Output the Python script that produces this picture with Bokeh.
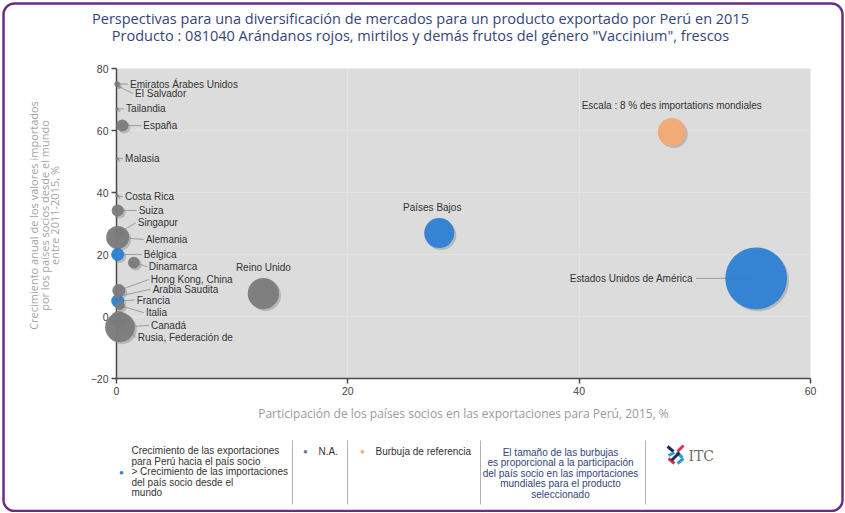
import math
from bokeh.plotting import figure
from bokeh.models import ColumnDataSource, Range1d, FixedTicker
from bokeh.core.properties import value
from bokeh.embed import file_html
from bokeh.resources import INLINE

# ------------------------------------------------------------------ data
title_lines = [
    "Perspectivas para una diversificación de mercados para un producto exportado por Perú en 2015",
    'Producto : 081040 Arándanos rojos, mirtilos y demás frutos del género "Vaccinium", frescos',
]
x_axis_title = "Participación de los países socios en las exportaciones para Perú, 2015, %"
y_axis_title = [
    "Crecimiento anual de los valores importados",
    "por los países socios desde el mundo",
    "entre 2011-2015, %",
]
x_ticks = [0, 20, 40, 60]
y_ticks = [-20, 0, 20, 40, 60, 80]

countries = [
    "Estados Unidos de América", "Países Bajos", "Reino Unido", "Canadá",
    "Rusia, Federación de", "Alemania", "Singapur", "España", "Suiza", "Bélgica",
    "Dinamarca", "Hong Kong, China", "Arabia Saudita", "Francia", "Italia",
    "Costa Rica", "Malasia", "Tailandia", "El Salvador", "Emiratos Árabes Unidos",
]
# participation in Peru's exports, 2015, %
share_peru_exports = [55.3, 27.9, 12.7, 0.3, 0.2, 0.1, 0.2, 0.5, 0.1, 0.1,
                      1.5, 0.2, 0.1, 0.1, 0.3, 0.05, 0.05, 0.05, 0.05, 0.05]
# annual growth of imports from the world 2011-2015, %
import_growth = [12.3, 26.9, 7.4, -3.5, -1.0, 25.5, 27.0, 61.6, 34.2, 20.0,
                 17.4, 8.4, 6.5, 5.0, 3.5, 39.0, 51.0, 67.0, 74.5, 75.0]
# share in world imports, %  (bubble size)
world_import_share = [39.0, 9.2, 10.0, 9.0, 3.0, 5.4, 1.0, 1.5, 1.5, 1.7,
                      1.4, 1.7, 0.3, 1.7, 0.8, 0.1, 0.1, 0.1, 0.1, 0.3]
group = ["exp", "exp", "na", "na", "na", "na", "na", "na", "na", "exp",
         "na", "na", "na", "exp", "na", "na", "na", "na", "na", "na"]

ref_label = "Escala : 8 % des importations mondiales"
ref_x = [48.0]
ref_y = [59.5]
ref_share = [8.0]

legend_exp_lines = [
    "Crecimiento de las exportaciones",
    "para Perú hacia el país socio",
    "> Crecimiento de las importaciones",
    "del país socio  desde el",
    "mundo",
]
legend_na = "N.A."
legend_ref = "Burbuja de referencia"
legend_size_lines = [
    "El tamaño de las burbujas",
    "es proporcional a la participación",
    "del país socio en las importaciones",
    "mundiales para el producto",
    "seleccionado",
]
logo_text = "ITC"

# ------------------------------------------------------------------ layout / style
label_dx = [-63, -7, 0, 31, 19, 28, 19, 21, 21, 26, 15, 32, 35, 19, 26, 8, 8, 9, 18, 13]
label_dy = [0, -26, -26, -2, 18, 2, -10, 0, 0, 0, 4, -11, -7, -1, 7, 1, 0, 0, 8, 0]
label_align = ["right", "center", "center"] + ["left"] * 17
label_leader = [True, False, False] + [True] * 17

COLORS = {"exp": "#2d7fd4", "na": "#7b7b7b", "ref": "#f2aa72"}
PURPLE = "#6b2d7f"
NAVY = "#34457a"
FONT = "Liberation Sans"

OX, OY = 0, 0            # page position of the canvas
W, H = 844, 512
FL, FR, FT, FB = 116, 810, 68, 378   # plot frame in page pixels
X0, X1, Y0, Y1 = 0, 60, -20, 80
PXX = (FR - FL) / (X1 - X0)
PXY = (FB - FT) / (Y1 - Y0)
K = 9.9  # bubble diameter (px) per sqrt(% of world imports)

p = figure(width=W, height=H, x_range=Range1d(X0, X1), y_range=Range1d(Y0, Y1),
           output_backend="svg", toolbar_location=None, tools="",
           min_border_left=FL - OX, min_border_right=W - (FR - OX),
           min_border_top=FT - OY, min_border_bottom=H - (FB - OY))
p.background_fill_color = "#dcdcdc"
p.border_fill_color = "white"
p.outline_line_color = None

p.xaxis.ticker = FixedTicker(ticks=x_ticks)
p.yaxis.ticker = FixedTicker(ticks=y_ticks)
for ax in (p.xaxis[0], p.yaxis[0]):
    ax.axis_line_color = "#4a4a4a"
    ax.axis_line_width = 1.5
    ax.major_tick_line_color = "#4a4a4a"
    ax.major_tick_line_width = 1.5
    ax.major_tick_out = 5
    ax.major_tick_in = 0
    ax.minor_tick_line_color = None
    ax.major_label_text_font = FONT
    ax.major_label_text_font_size = "10.5px"
    ax.major_label_text_color = "#444444"
    ax.major_label_standoff = 3
for g in (p.xgrid[0], p.ygrid[0]):
    g.grid_line_color = "#e4e4e4"
    g.grid_line_width = 1


def X(ix):
    return X0 + (ix - OX - FL + OX) / PXX


def Y(iy):
    return Y1 - (iy - FT) / PXY


def add_text(ix, iy, text, size, color, align="left", font=FONT, angle=0.0):
    p.text(x=[X(ix)], y=[Y(iy)], text=[text], text_font=value(font), text_font_size=size,
           text_color=color, text_align=align, text_baseline="middle", angle=angle,
           level="overlay")


def poly(pts, fill=None, line=None, lw=1.0):
    p.patch(x=[X(a) for a, b in pts], y=[Y(b) for a, b in pts],
            fill_color=fill if fill else "white", fill_alpha=1 if fill else 0,
            line_color=line if line else "white", line_alpha=1 if line else 0,
            line_width=lw, level="overlay")


def rounded_rect(x0, y0, x1, y1, r, n=10):
    pts = []
    corners = [(x1 - r, y0 + r, -90, 0), (x1 - r, y1 - r, 0, 90),
               (x0 + r, y1 - r, 90, 180), (x0 + r, y0 + r, 180, 270)]
    for cx, cy, a0, a1 in corners:
        for k in range(n + 1):
            a = math.radians(a0 + (a1 - a0) * k / n)
            pts.append((cx + r * math.cos(a), cy + r * math.sin(a)))
    pts.append(pts[0])
    return pts


def bar(p1, p2, w):
    (x1, y1), (x2, y2) = p1, p2
    L = math.hypot(x2 - x1, y2 - y1)
    nx, ny = -(y2 - y1) / L * w / 2, (x2 - x1) / L * w / 2
    return [(x1 + nx, y1 + ny), (x2 + nx, y2 + ny), (x2 - nx, y2 - ny), (x1 - nx, y1 - ny)]


# ------------------------------------------------------------------ leaders & labels
lx = [x + dx / PXX for x, dx in zip(share_peru_exports, label_dx)]
ly = [y - dy / PXY for y, dy in zip(import_growth, label_dy)]
seg = dict(x0=[], y0=[], x1=[], y1=[])
for i in range(len(countries)):
    if not label_leader[i]:
        continue
    gap = -2 if label_align[i] == "left" else 3
    seg["x0"].append(share_peru_exports[i])
    seg["y0"].append(import_growth[i])
    seg["x1"].append(lx[i] + gap / PXX)
    seg["y1"].append(ly[i])
p.segment(x0="x0", y0="y0", x1="x1", y1="y1", source=ColumnDataSource(seg),
          line_color="#8c8c8c", line_width=0.8)

for al in ("left", "right", "center"):
    idx = [i for i in range(len(countries)) if label_align[i] == al]
    p.text(x=[lx[i] for i in idx], y=[ly[i] for i in idx], text=[countries[i] for i in idx],
           text_align=al, text_baseline="middle", text_font=value(FONT),
           text_font_size="10px", text_color="#333333")

p.text(x=ref_x, y=[ref_y[0] + 27 / PXY], text=[ref_label], text_align="center",
       text_baseline="middle", text_font=value(FONT), text_font_size="10px", text_color="#333333")

# ------------------------------------------------------------------ bubbles
order = sorted(range(len(countries)), key=lambda i: -world_import_share[i])
bx = [share_peru_exports[i] for i in order] + ref_x
by = [import_growth[i] for i in order] + ref_y
bs = [world_import_share[i] for i in order] + ref_share
bc = [COLORS[group[i]] for i in order] + [COLORS["ref"]]
src = ColumnDataSource(dict(
    x=bx, y=by, d=[K * math.sqrt(s) for s in bs], c=bc,
    sx=[v + 2 / PXX for v in bx], sy=[v - 2 / PXY for v in by],
))
p.scatter("sx", "sy", size="d", source=src, fill_color="#8a8a8a", fill_alpha=0.45,
          line_color=None, level="annotation")
p.scatter("x", "y", size="d", source=src, fill_color="c", fill_alpha=0.95,
          line_color=None, level="annotation")

# ------------------------------------------------------------------ titles
add_text(420, 18, title_lines[0], "14.5px", NAVY, "center", "Open Sans")
add_text(420, 35, title_lines[1], "14.5px", NAVY, "center", "Open Sans")
add_text(463, 413, x_axis_title, "12px", "#9a9a9a", "center", "Open Sans")
for xx, line in zip([33, 43.5, 54], y_axis_title):
    add_text(xx, 215, line, "11px", "#a4a4a4", "center", "Open Sans", angle=math.pi / 2)

# ------------------------------------------------------------------ legend
add_text(121, 472, "●", "8px", COLORS["exp"], "center")
for k, line in enumerate(legend_exp_lines):
    add_text(131, 450 + 10.5 * k, line, "10px", "#333333")
add_text(305, 451, "●", "8px", COLORS["na"], "center")
add_text(318, 451, legend_na, "10px", "#333333")
add_text(362, 451, "●", "8px", COLORS["ref"], "center")
add_text(375, 451, legend_ref, "10px", "#333333")
for k, line in enumerate(legend_size_lines):
    add_text(560, 451.5 + 10.5 * k, line, "10px", NAVY, "center")
for sxp in (292, 347, 480, 645):
    poly([(sxp - 0.5, 440), (sxp + 0.5, 440), (sxp + 0.5, 504), (sxp - 0.5, 504)], fill="#b0b0b0")

# ITC logo
logo = [
    ((667, 446), (673, 451), "#1d2c5b"),
    ((677, 451), (683, 445), "#d8325a"),
    ((668, 455), (674, 452), "#2f9bd6"),
    ((676, 452), (682, 457), "#2f9bd6"),
    ((668, 458), (674, 463), "#d8325a"),
    ((677, 463), (683, 458), "#2f9bd6"),
    ((671, 460), (679, 452), "#1d2c5b"),
]
for a, b, c in logo:
    poly(bar(a, b, 3.0), fill=c)
add_text(688, 455, logo_text, "14px", "#6d6d6d", "left", "DejaVu Serif")

# purple rounded frame
poly(rounded_rect(3, 3, 842, 510.5, 11), line=PURPLE, lw=2.5)

open("out.html", "w").write(file_html(p, INLINE))
